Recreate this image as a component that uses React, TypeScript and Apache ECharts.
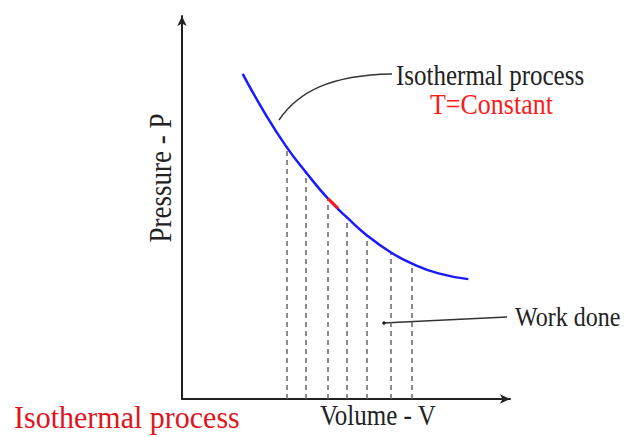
import React, { useEffect, useRef } from "react";
import * as echarts from "echarts";

// Isotherm curve (arbitrary units)
const volumes = [1.85, 2.52, 3.18, 3.76, 4.45, 5.03, 5.64, 6.36, 7.0, 7.82, 8.73];
const pressures = [8.49, 7.47, 6.59, 5.94, 5.23, 4.74, 4.27, 3.83, 3.54, 3.28, 3.13];
// indices of curve points that get a dashed drop line
const dropIdx = [2, 3, 4, 5, 6, 7, 8];
// small highlighted (red) element on the curve
const redV = [4.45, 4.76];
const redP = [5.23, 4.98];

const axisMax = 10;

const serif = "Liberation Serif, Times New Roman, serif";

export default function App() {
  const ref = useRef<HTMLDivElement>(null);
  useEffect(() => {
    if (!ref.current) return;
    const chart = echarts.init(ref.current, null, { renderer: "svg" });
    const curve = volumes.map((v, i) => [v, pressures[i]]);
    const drops = dropIdx.map((i) => [
      { coord: [volumes[i], 0] },
      { coord: [volumes[i], pressures[i]] },
    ]);
    const axisCommon = {
      type: "value",
      min: 0,
      max: axisMax,
      axisLabel: { show: false },
      axisTick: { show: false },
      splitLine: { show: false },
      axisLine: {
        show: true,
        onZero: false,
        symbol: ["none", "arrow"],
        symbolSize: [7, 10],
        lineStyle: { color: "#222", width: 2 },
      },
    };
    const txt = (text: string, x: number, y: number, size: number, fill: string, extra: any = {}) => ({
      type: "text",
      x,
      y,
      scaleY: 1.15,
      ...extra,
      style: {
        text,
        font: `${size}px ${serif}`,
        fontFamily: serif,
        fontSize: size,
        fill,
        textVerticalAlign: "middle",
        ...(extra.style || {}),
      },
    });
    chart.setOption({
      animation: false,
      backgroundColor: "#fff",
      textStyle: { fontFamily: serif },
      grid: { left: 182, top: 16, right: 115, bottom: 38 },
      xAxis: axisCommon,
      yAxis: axisCommon,
      series: [
        {
          type: "line",
          data: curve,
          smooth: 0.5,
          showSymbol: false,
          lineStyle: { color: "#1a1aff", width: 2.5 },
          z: 3,
          markLine: {
            silent: true,
            symbol: ["none", "none"],
            label: { show: false },
            lineStyle: { color: "#666", width: 1.5, type: [5, 4] },
            data: drops,
            z: 1,
          },
        },
        {
          type: "line",
          data: redV.map((v, i) => [v, redP[i]]),
          showSymbol: false,
          lineStyle: { color: "#ff1a1a", width: 3 },
          z: 4,
        },
      ],
      graphic: [
        {
          type: "bezierCurve",
          shape: { x1: 279, y1: 120, cpx1: 298, cpy1: 92, cpx2: 330, cpy2: 75, x2: 392, y2: 74 },
          style: { stroke: "#333", lineWidth: 1.5, fill: null },
        },
        {
          type: "line",
          shape: { x1: 383, y1: 323, x2: 507, y2: 317 },
          style: { stroke: "#333", lineWidth: 1.5 },
        },
        { type: "circle", shape: { cx: 384, cy: 323, r: 1.8 }, style: { fill: "#222" } },
        txt("Isothermal process", 396, 75, 25, "#222"),
        txt("T=Constant", 430, 104, 26, "#ff1a1a"),
        txt("Work done", 515, 317, 24, "#222"),
        txt("Volume - V", 320, 415, 25, "#222"),
        txt("Isothermal process", 14, 417, 30, "#e0141c", { scaleY: 1.08 }),
        txt("Pressure - P", 160, 178, 27, "#222", {
          rotation: Math.PI / 2,
          style: { textAlign: "center" },
        }),
      ],
    });
    return () => chart.dispose();
  }, []);
  return (
    <div
      ref={ref}
      style={{ position: "fixed", left: 0, top: 0, width: 625, height: 437, background: "#fff" }}
    />
  );
}
